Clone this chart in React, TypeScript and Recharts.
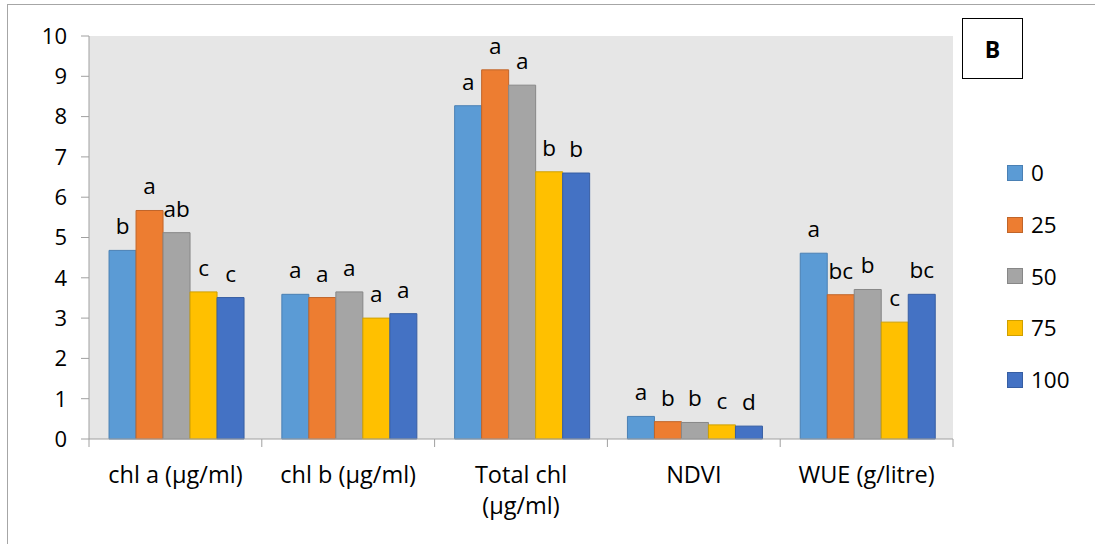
import { BarChart, Bar, XAxis, YAxis, CartesianGrid, Legend, LabelList } from "recharts";

const categories = ["chl a (µg/ml)", "chl b (µg/ml)", "Total chl\n(µg/ml)", "NDVI", "WUE (g/litre)"];
const v0 = [4.68, 3.59, 8.27, 0.56, 4.61];
const v25 = [5.67, 3.51, 9.16, 0.43, 3.58];
const v50 = [5.12, 3.65, 8.78, 0.41, 3.71];
const v75 = [3.65, 3.0, 6.63, 0.35, 2.9];
const v100 = [3.51, 3.11, 6.6, 0.32, 3.59];
const l0 = ["b", "a", "a", "a", "a"];
const l25 = ["a", "a", "a", "b", "bc"];
const l50 = ["ab", "a", "a", "b", "b"];
const l75 = ["c", "a", "b", "c", "c"];
const l100 = ["c", "a", "b", "d", "bc"];
const yTicks = [0, 1, 2, 3, 4, 5, 6, 7, 8, 9, 10];

const series = [
  { key: "0", values: v0, letters: l0, fill: "#5B9BD5", stroke: "#4A80B4" },
  { key: "25", values: v25, letters: l25, fill: "#ED7D31", stroke: "#C0652A" },
  { key: "50", values: v50, letters: l50, fill: "#A5A5A5", stroke: "#878787" },
  { key: "75", values: v75, letters: l75, fill: "#FFC000", stroke: "#CFA000" },
  { key: "100", values: v100, letters: l100, fill: "#4472C4", stroke: "#375EA3" },
];

const data = categories.map((name, i) => {
  const row: Record<string, string | number> = { name };
  series.forEach((s) => {
    row[s.key] = s.values[i];
    row["l" + s.key] = s.letters[i];
  });
  return row;
});

const FONT = "'Open Sans', sans-serif";
const AXIS = "#A0A0A0";
const PLOT_W = 864;
const BAND = PLOT_W / categories.length;

function CategoryTick(props: any) {
  const { x, y, payload, index } = props;
  const lines = String(payload.value).split("\n");
  return (
    <g>
      <line x1={x - BAND / 2} y1={y} x2={x - BAND / 2} y2={y + 8} stroke={AXIS} />
      {index === categories.length - 1 && <line x1={x + BAND / 2} y1={y} x2={x + BAND / 2} y2={y + 8} stroke={AXIS} />}
      <text x={x} y={y + 44} textAnchor="middle" fontFamily={FONT} fontSize={23.5} fill="#000">
        {lines.map((t, i) => (
          <tspan key={i} x={x} dy={i === 0 ? 0 : 31}>
            {t}
          </tspan>
        ))}
      </text>
    </g>
  );
}

function LegendBox() {
  return (
    <div style={{ fontFamily: FONT, fontSize: 22.5, color: "#000" }}>
      {series.map((s) => (
        <div key={s.key} style={{ display: "flex", alignItems: "center", height: 51.7 }}>
          <span style={{ width: 14, height: 14, background: s.fill, border: `1px solid ${s.stroke}`, marginRight: 8 }} />
          <span>{s.key}</span>
        </div>
      ))}
    </div>
  );
}

export default function App() {
  return (
    <div style={{ position: "absolute", left: 0, top: 0, width: 1095, height: 544, background: "#fff", overflow: "hidden" }}>
      <div style={{ position: "absolute", left: 7, top: 4, width: 1200, height: 600, borderTop: "1px solid #A6A6A6", borderLeft: "1px solid #A6A6A6" }} />
      <BarChart width={1095} height={544} data={data} margin={{ top: 36, right: 142, bottom: 25, left: 29 }} barCategoryGap="11.6%" barGap={0}>
        <CartesianGrid horizontal={false} vertical={false} fill="#E6E6E6" />
        <XAxis dataKey="name" height={80} tickLine={false} tickSize={0} tickMargin={0} stroke={AXIS} tick={<CategoryTick />} interval={0} />
        <YAxis
          width={60}
          domain={[0, 10]}
          ticks={yTicks}
          interval={0}
          stroke={AXIS}
          tickSize={8}
          tickMargin={14}
          tick={{ fill: "#000", fontFamily: FONT, fontSize: 22 }}
        />
        <Legend
          layout="horizontal"
          align="center"
          verticalAlign="middle"
          wrapperStyle={{ left: 1007, top: 147, width: 85 }}
          content={() => <LegendBox />}
        />
        {series.map((s) => (
          <Bar key={s.key} dataKey={s.key} fill={s.fill} stroke={s.stroke} strokeWidth={1} isAnimationActive={false}>
            <LabelList dataKey={"l" + s.key} position="top" offset={16} fill="#000" fontFamily={FONT} fontSize={22.5} />
          </Bar>
        ))}
      </BarChart>
      <div
        style={{
          position: "absolute",
          left: 962,
          top: 18,
          width: 59,
          height: 59,
          border: "1.5px solid #000",
          background: "#fff",
          display: "flex",
          alignItems: "center",
          justifyContent: "center",
          fontFamily: FONT,
          fontWeight: 700,
          fontSize: 23,
        }}
      >
        B
      </div>
    </div>
  );
}
